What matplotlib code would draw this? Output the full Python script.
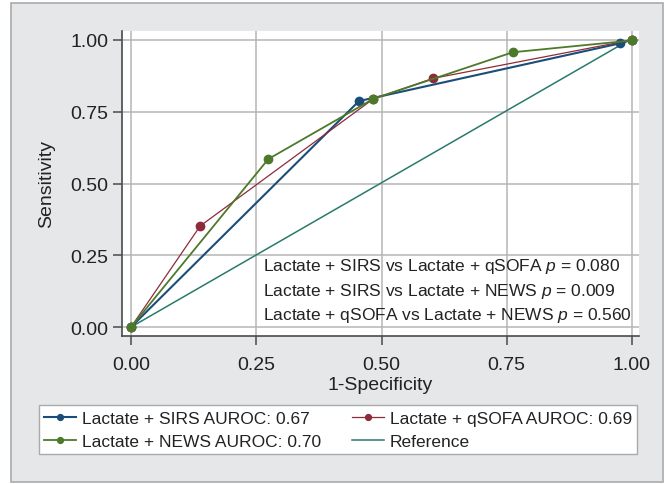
import matplotlib.pyplot as plt
from matplotlib.patches import Rectangle

plt.rcParams['font.family'] = ['Liberation Sans', 'DejaVu Sans']
plt.rcParams['mathtext.fontset'] = 'custom'
plt.rcParams['mathtext.it'] = 'Liberation Sans:italic'
plt.rcParams['mathtext.rm'] = 'Liberation Sans'

# ROC points (1-specificity, sensitivity)
sirs_x = [0.0, 0.455, 0.976, 1.0]
sirs_y = [0.0, 0.787, 0.988, 1.0]
qsofa_x = [0.0, 0.138, 0.484, 0.603, 1.0]
qsofa_y = [0.0, 0.352, 0.795, 0.866, 1.0]
news_x = [0.0, 0.274, 0.484, 0.762, 1.0]
news_y = [0.0, 0.585, 0.795, 0.957, 0.998]
ref_x = [0.0, 0.978]
ref_y = [0.0, 0.983]

labels = ["Lactate + SIRS AUROC: 0.67", "Lactate + qSOFA AUROC: 0.69",
          "Lactate + NEWS AUROC: 0.70", "Reference"]
ticks = [0.0, 0.25, 0.5, 0.75, 1.0]
tick_labels = ["0.00", "0.25", "0.50", "0.75", "1.00"]
p_lines = [("Lactate + SIRS vs Lactate + qSOFA ", "0.080"),
           ("Lactate + SIRS vs Lactate + NEWS ", "0.009"),
           ("Lactate + qSOFA vs Lactate + NEWS ", "0.560")]

c_sirs = "#1a4e7a"
c_qsofa = "#8e2b3a"
c_news = "#4c7a2a"
c_ref = "#2a7a6c"
bg = "#e6e7e9"

fig = plt.figure(figsize=(6.65, 4.85), dpi=100)
fig.patch.set_facecolor("white")
# gray outer panel like Stata
fig.patches.append(Rectangle((11 / 665, 2 / 485), 652 / 665, 479 / 485,
                             transform=fig.transFigure, facecolor=bg,
                             edgecolor="#a9aaac", linewidth=1.2, zorder=-5))

ax = fig.add_axes([122 / 665, 1 - 337 / 485, 517 / 665, 305 / 485])
ax.set_facecolor("white")
ax.set_xlim(-0.018, 1.014)
ax.set_ylim(-0.031, 1.031)

l4, = ax.plot(ref_x, ref_y, color=c_ref, lw=1.1, label=labels[3], zorder=3)
l1, = ax.plot(sirs_x, sirs_y, color=c_sirs, lw=1.5, marker="o", ms=6, label=labels[0], zorder=4)
l2, = ax.plot(qsofa_x, qsofa_y, color=c_qsofa, lw=0.9, marker="o", ms=6, label=labels[1], zorder=5)
l3, = ax.plot(news_x, news_y, color=c_news, lw=1.3, marker="o", ms=6, label=labels[2], zorder=6)

ax.set_xticks(ticks)
ax.set_xticklabels(tick_labels)
ax.set_yticks(ticks)
ax.set_yticklabels(tick_labels)
ax.grid(True, color="#b5b5b7", lw=1.1)
ax.set_axisbelow(True)
for s in ["top", "right"]:
    ax.spines[s].set_visible(False)
for s in ["left", "bottom"]:
    ax.spines[s].set_color("#4a4a4a")
    ax.spines[s].set_linewidth(1.2)
ax.tick_params(axis="both", colors="#4a4a4a", labelcolor="#222222",
               labelsize=14, length=6.5, width=1.1)
ax.tick_params(axis="x", pad=8)
ax.tick_params(axis="y", pad=3.5)
ax.set_xlabel("1-Specificity", fontsize=14, color="#222222", labelpad=2)
ax.set_ylabel("Sensitivity", fontsize=14, color="#222222", labelpad=11)

ys = [0.213, 0.129, 0.045]
for (txt, pv), yy in zip(p_lines, ys):
    ax.text(0.263, yy, txt + r"$\it{p}$" + " = " + pv, fontsize=12.5,
            color="#222222", va="center", ha="left", zorder=7)

leg = fig.legend([l1, l3, l2, l4], [labels[0], labels[2], labels[1], labels[3]],
                 ncol=2, loc="lower left", mode="expand",
                 bbox_to_anchor=(39 / 665, 1 - 455 / 485, 598 / 665, 53 / 485),
                 fontsize=12.5, frameon=True, fancybox=False, framealpha=1,
                 handlelength=1.85, handletextpad=0.3, borderpad=0.3,
                 labelspacing=0.45, borderaxespad=0, markerscale=0.7)
leg.get_frame().set_edgecolor("#a9aaac")
leg.get_frame().set_linewidth(1.0)
for t in leg.get_texts():
    t.set_color("#222222")

fig.savefig("out.png", dpi=100)
